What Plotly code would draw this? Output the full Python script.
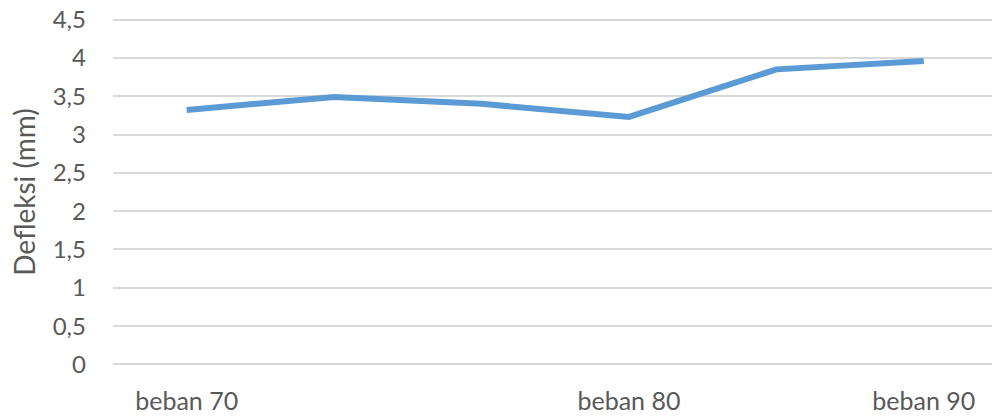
import plotly.graph_objects as go

x_index = [0, 1, 2, 3, 4, 5]
defleksi = [3.32, 3.49, 3.40, 3.23, 3.85, 3.96]
x_tick_pos = [0, 3, 5]
x_tick_labels = ["beban 70", "beban 80", "beban 90"]
y_tick_vals = [0, 0.5, 1, 1.5, 2, 2.5, 3, 3.5, 4, 4.5]
y_tick_labels = ["0", "0,5", "1", "1,5", "2", "2,5", "3", "3,5", "4", "4,5"]

fig = go.Figure()
fig.add_trace(go.Scatter(
    x=x_index, y=defleksi, mode="lines",
    line=dict(color="#5b9bd5", width=6),
    showlegend=False,
))

font_family = "Lato, 'Open Sans', sans-serif"
fig.update_layout(
    width=992, height=417,
    margin=dict(l=113, r=0, t=18, b=51),
    paper_bgcolor="white", plot_bgcolor="white",
    font=dict(family=font_family, color="#595959", size=24),
)
fig.update_xaxes(
    range=[-0.5, 5.463], tickvals=x_tick_pos, ticktext=x_tick_labels,
    showgrid=False, zeroline=False, showline=False,
    ticks="", ticklabelstandoff=18,
    tickfont=dict(size=25, color="#595959"),
)
fig.update_yaxes(
    range=[-0.02, 4.52], tickvals=y_tick_vals, ticktext=y_tick_labels,
    showgrid=True, gridcolor="#d9d9d9", gridwidth=2,
    zeroline=False, showline=False, ticks="",
    ticklabelstandoff=26,
    tickfont=dict(size=24, color="#595959"),
    title=dict(text="Defleksi (mm)", font=dict(size=28, color="#595959"), standoff=8),
)
fig.write_html("out.html")
